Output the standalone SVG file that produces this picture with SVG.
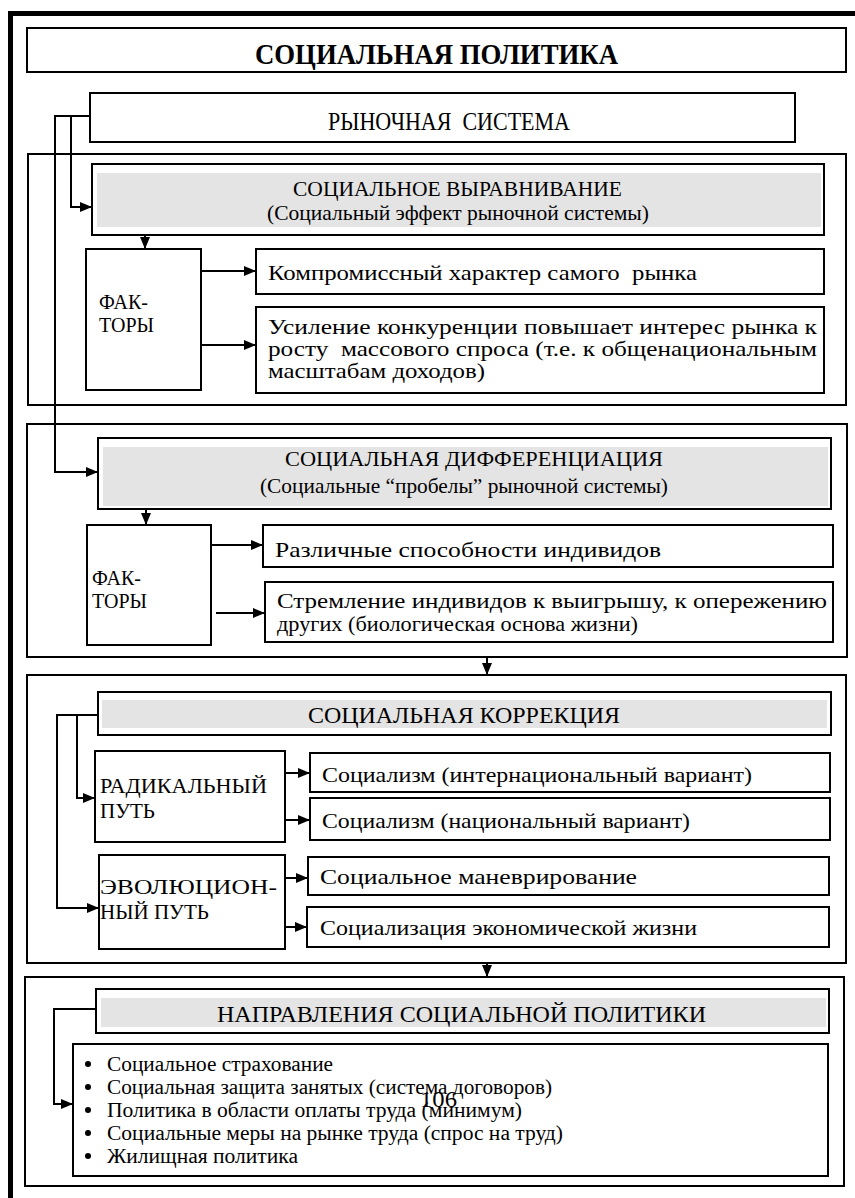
<svg xmlns="http://www.w3.org/2000/svg" width="855" height="1198" viewBox="0 0 855 1198">
<style>
.b{fill:#fff;stroke:#000;stroke-width:2}
.g{fill:#e4e4e4;stroke:none}
.t{font-family:"Liberation Serif","DejaVu Serif",serif;fill:#000}
.c{fill:none;stroke:#000;stroke-width:2}
</style>
<defs>
<marker id="ah" markerWidth="12" markerHeight="10" refX="12" refY="5" orient="auto" markerUnits="userSpaceOnUse"><path d="M0,0 L12,5 L0,10 z" fill="#000"/></marker>
</defs>
<rect width="855" height="1198" fill="#fff"/>
<path d="M10.5,1200 V13.5 H860" fill="none" stroke="#000" stroke-width="5"/>

<g id="title"><rect class="b" x="27" y="28" width="819" height="44"/>
<text class="t" x="436.5" y="64" font-size="30" font-weight="bold" text-anchor="middle" textLength="363" lengthAdjust="spacingAndGlyphs">СОЦИАЛЬНАЯ ПОЛИТИКА</text></g>

<g id="market"><rect class="b" x="90" y="93" width="705" height="49"/>
<text class="t" x="449" y="130" font-size="26" text-anchor="middle" textLength="242" lengthAdjust="spacingAndGlyphs" xml:space="preserve">РЫНОЧНАЯ  СИСТЕМА</text></g>

<g id="sec1"><rect class="b" x="28" y="154" width="818" height="251"/></g>
<g id="sec2"><rect class="b" x="27" y="424" width="820" height="233"/></g>
<g id="sec3"><rect class="b" x="27" y="675" width="819" height="288"/></g>
<g id="sec4"><rect class="b" x="25" y="977" width="819" height="209"/></g>

<g id="h1"><rect class="b" x="92" y="164" width="732" height="71"/><rect class="g" x="97" y="173" width="724" height="54"/>
<text class="t" x="457.5" y="196" font-size="21" text-anchor="middle" textLength="329" lengthAdjust="spacingAndGlyphs">СОЦИАЛЬНОЕ ВЫРАВНИВАНИЕ</text>
<text class="t" x="458" y="220" font-size="21" text-anchor="middle" textLength="382" lengthAdjust="spacingAndGlyphs">(Социальный эффект рыночной системы)</text></g>

<g id="f1"><rect class="b" x="86" y="249" width="115" height="141"/>
<text class="t" x="99" y="309" font-size="20">ФАК-</text>
<text class="t" x="99" y="332" font-size="20">ТОРЫ</text></g>

<g id="f1a"><rect class="b" x="256" y="249" width="568" height="45"/>
<text class="t" x="268" y="280" font-size="22" textLength="429" lengthAdjust="spacingAndGlyphs" xml:space="preserve">Компромиссный характер самого  рынка</text></g>

<g id="f1b"><rect class="b" x="256" y="307" width="568" height="86"/>
<text class="t" x="268" y="334" font-size="21" textLength="549" lengthAdjust="spacingAndGlyphs">Усиление конкуренции повышает интерес рынка к</text>
<text class="t" x="268" y="356" font-size="21" textLength="549" lengthAdjust="spacingAndGlyphs" xml:space="preserve">росту  массового спроса (т.е. к общенациональным</text>
<text class="t" x="268" y="378" font-size="21" textLength="217" lengthAdjust="spacingAndGlyphs">масштабам доходов)</text></g>

<g id="h2"><rect class="b" x="98" y="438" width="733" height="71"/><rect class="g" x="103" y="447" width="725" height="59"/>
<text class="t" x="474" y="466" font-size="21" text-anchor="middle" textLength="378" lengthAdjust="spacingAndGlyphs">СОЦИАЛЬНАЯ ДИФФЕРЕНЦИАЦИЯ</text>
<text class="t" x="464" y="493" font-size="21" text-anchor="middle" textLength="408" lengthAdjust="spacingAndGlyphs">(Социальные “пробелы” рыночной системы)</text></g>

<g id="f2"><rect class="b" x="87" y="525" width="124" height="120"/>
<text class="t" x="92" y="585" font-size="20">ФАК-</text>
<text class="t" x="92" y="608" font-size="20">ТОРЫ</text></g>

<g id="f2a"><rect class="b" x="263" y="525" width="570" height="42"/>
<text class="t" x="275" y="557" font-size="22" textLength="386" lengthAdjust="spacingAndGlyphs">Различные способности индивидов</text></g>

<g id="f2b"><rect class="b" x="265" y="582" width="568" height="60"/>
<text class="t" x="277" y="608" font-size="21" textLength="550" lengthAdjust="spacingAndGlyphs">Стремление индивидов к выигрышу, к опережению</text>
<text class="t" x="277" y="631" font-size="21" textLength="361" lengthAdjust="spacingAndGlyphs">других (биологическая основа жизни)</text></g>

<g id="h3"><rect class="b" x="98" y="692" width="733" height="43"/><rect class="g" x="102" y="700" width="725" height="28"/>
<text class="t" x="464" y="723" font-size="23" text-anchor="middle" textLength="312" lengthAdjust="spacingAndGlyphs">СОЦИАЛЬНАЯ КОРРЕКЦИЯ</text></g>

<g id="rad"><rect class="b" x="95" y="751" width="190" height="91"/>
<text class="t" x="100" y="793" font-size="21" textLength="167" lengthAdjust="spacingAndGlyphs">РАДИКАЛЬНЫЙ</text>
<text class="t" x="100" y="818" font-size="21">ПУТЬ</text></g>

<g id="r1"><rect class="b" x="310" y="753" width="520" height="39"/>
<text class="t" x="322" y="782" font-size="22" textLength="430" lengthAdjust="spacingAndGlyphs">Социализм (интернациональный вариант)</text></g>
<g id="r2"><rect class="b" x="310" y="798" width="520" height="42"/>
<text class="t" x="322" y="828" font-size="22" textLength="368" lengthAdjust="spacingAndGlyphs">Социализм (национальный вариант)</text></g>

<g id="evo"><rect class="b" x="99" y="855" width="186" height="94"/>
<text class="t" x="100" y="894" font-size="21" textLength="177" lengthAdjust="spacingAndGlyphs">ЭВОЛЮЦИОН-</text>
<text class="t" x="100" y="919" font-size="21">НЫЙ ПУТЬ</text></g>

<g id="e1"><rect class="b" x="308" y="857" width="521" height="38"/>
<text class="t" x="320" y="884" font-size="22" textLength="317" lengthAdjust="spacingAndGlyphs">Социальное маневрирование</text></g>
<g id="e2"><rect class="b" x="307" y="907" width="522" height="40"/>
<text class="t" x="320" y="935" font-size="22" textLength="377" lengthAdjust="spacingAndGlyphs">Социализация экономической жизни</text></g>

<g id="h4"><rect class="b" x="96" y="989" width="733" height="44"/><rect class="g" x="101" y="998" width="725" height="29"/>
<text class="t" x="461.5" y="1022" font-size="24" text-anchor="middle" textLength="489" lengthAdjust="spacingAndGlyphs">НАПРАВЛЕНИЯ СОЦИАЛЬНОЙ ПОЛИТИКИ</text></g>

<g id="list"><rect class="b" x="73" y="1044" width="755" height="132"/>
<circle cx="88" cy="1064" r="3"/><circle cx="88" cy="1087" r="3"/><circle cx="88" cy="1110" r="3"/><circle cx="88" cy="1133" r="3"/><circle cx="88" cy="1156" r="3"/>
<text class="t" x="107" y="1071" font-size="20" textLength="226" lengthAdjust="spacingAndGlyphs">Социальное страхование</text>
<text class="t" x="107" y="1094" font-size="20" textLength="445" lengthAdjust="spacingAndGlyphs">Социальная защита занятых (система договоров)</text>
<text class="t" x="107" y="1117" font-size="20" textLength="415" lengthAdjust="spacingAndGlyphs">Политика в области оплаты труда (минимум)</text>
<text class="t" x="107" y="1140" font-size="20" textLength="456" lengthAdjust="spacingAndGlyphs">Социальные меры на рынке труда (спрос на труд)</text>
<text class="t" x="107" y="1163" font-size="20" textLength="191" lengthAdjust="spacingAndGlyphs">Жилищная политика</text></g>

<g id="page"><text class="t" x="420" y="1107" font-size="24" textLength="37" lengthAdjust="spacingAndGlyphs">106</text></g>

<g id="connectors">
<path class="c" d="M90,116 H54"/>
<path class="c" d="M71,116 V207 H92" marker-end="url(#ah)"/>
<path class="c" d="M55,116 V472 H98" marker-end="url(#ah)"/>
<path class="c" d="M145,235 V249" marker-end="url(#ah)"/>
<path class="c" d="M201,271 H256" marker-end="url(#ah)"/>
<path class="c" d="M201,345 H256" marker-end="url(#ah)"/>
<path class="c" d="M146,509 V525" marker-end="url(#ah)"/>
<path class="c" d="M211,545 H263" marker-end="url(#ah)"/>
<path class="c" d="M216,613 H265" marker-end="url(#ah)"/>
<path class="c" d="M487,657 V675" marker-end="url(#ah)"/>
<path class="c" d="M98,715 H57 V908 H99" marker-end="url(#ah)"/>
<path class="c" d="M77,715 V798 H95" marker-end="url(#ah)"/>
<path class="c" d="M285,773 H310" marker-end="url(#ah)"/>
<path class="c" d="M285,820 H310" marker-end="url(#ah)"/>
<path class="c" d="M285,878 H308" marker-end="url(#ah)"/>
<path class="c" d="M285,927 H307" marker-end="url(#ah)"/>
<path class="c" d="M487,963 V977" marker-end="url(#ah)"/>
<path class="c" d="M96,1009 H54 V1104 H73" marker-end="url(#ah)"/>
</g>
</svg>
